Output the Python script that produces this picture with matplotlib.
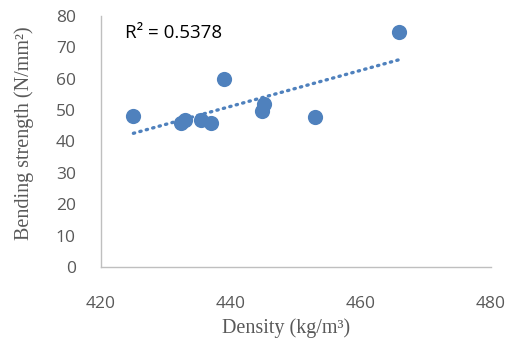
import numpy as np
import matplotlib
matplotlib.use("Agg")
import matplotlib.pyplot as plt

density = [425, 432.3, 432.9, 435.4, 436.9, 438.9, 444.8, 445.1, 452.9, 465.8]
strength = [48, 45.8, 46.8, 46.8, 45.8, 60, 49.8, 52, 47.8, 75]
x_ticks = [420, 440, 460, 480]
y_ticks = [0, 10, 20, 30, 40, 50, 60, 70, 80]
r2_text = "R² = 0.5378"

blue = "#4F81BD"
fig = plt.figure(figsize=(5.07, 3.47), dpi=100)
ax = fig.add_axes([0.199, 0.2305, 0.769, 0.7235])

ax.scatter(density, strength, s=120, color=blue, zorder=3, linewidths=0)

coef = np.polyfit(density, strength, 1)
xs = np.array([min(density), max(density)])
ax.plot(xs, np.polyval(coef, xs), color=blue, linewidth=2.4,
        linestyle=(0, (0.4, 1.6)), dash_capstyle="round", zorder=2)

ax.set_xlim(420, 480)
ax.set_ylim(0, 80)
ax.set_xticks(x_ticks)
ax.set_yticks(y_ticks)
tick_font = "Open Sans"
for lab in ax.get_xticklabels() + ax.get_yticklabels():
    lab.set_family(tick_font)
    lab.set_fontsize(12.5)
    lab.set_color("#595959")
ax.tick_params(axis="y", length=0, pad=18)
ax.tick_params(axis="x", length=0, pad=21)
for s in ["top", "right"]:
    ax.spines[s].set_visible(False)
for s in ["left", "bottom"]:
    ax.spines[s].set_color("#BFBFBF")
    ax.spines[s].set_linewidth(1)

ax.text(423.7, 74.5, r2_text, fontsize=13.5, family=tick_font, color="black", va="center")

ax.set_xlabel("Density (kg/m³)", family="Liberation Serif", fontsize=14.5, color="#595959")
ax.set_ylabel("Bending strength (N/mm²)", family="Liberation Serif", fontsize=14.5, color="#595959")
ax.xaxis.set_label_coords(0.475, -0.205)
ax.yaxis.set_label_coords(-0.172, 0.535)

fig.savefig("out.png", dpi=100)
